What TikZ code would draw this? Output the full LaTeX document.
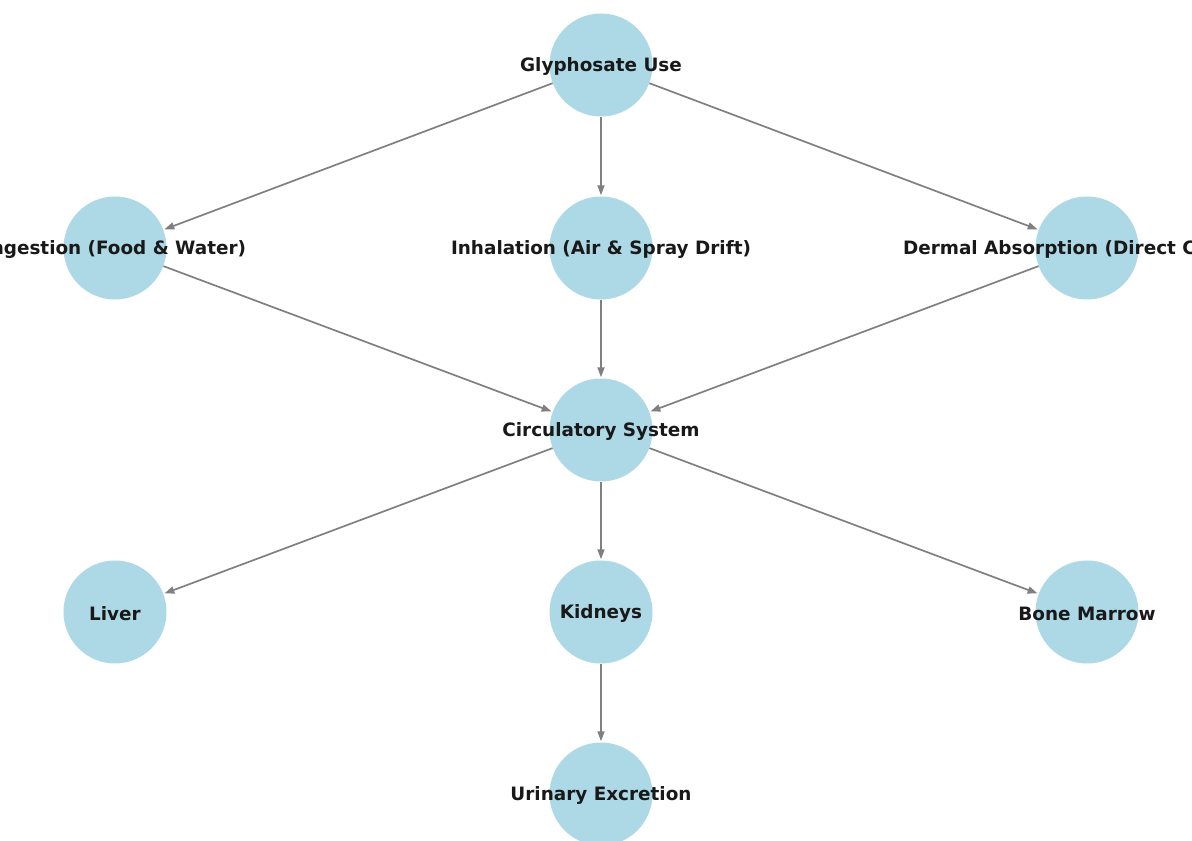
\documentclass[tikz,border=0pt]{standalone}
\usepackage{fontspec}
\setmainfont{DejaVu Sans}
\usetikzlibrary{arrows.meta}
\definecolor{nodeblue}{HTML}{ADD8E6}
\definecolor{edgegray}{HTML}{808080}
\tikzset{
  bubble/.style={circle, fill=nodeblue, draw=none, minimum size=103pt, inner sep=0pt},
  lbl/.style={font=\bfseries\fontsize{18.4}{21}\selectfont, text=black!90, inner sep=0pt, yshift=-1.5pt},
  link/.style={draw=edgegray, line width=1.7pt, -{Triangle[length=10pt,width=7pt]}, shorten >=1pt, shorten <=0pt}
}
\begin{document}
\begin{tikzpicture}[x=1pt,y=1pt]
\useasboundingbox (0,0) rectangle (1192,841);
\clip (0,0) rectangle (1192,841);
\fill[white] (0,0) rectangle (1192,841);
% circles
\node[bubble] (g) at (601,776) {};
\node[bubble] (ing) at (115,593) {};
\node[bubble] (inh) at (601,593) {};
\node[bubble] (der) at (1087,593) {};
\node[bubble] (cir) at (601,411) {};
\node[bubble] (liv) at (115,229) {};
\node[bubble] (kid) at (601,229) {};
\node[bubble] (bon) at (1087,229) {};
\node[bubble] (uri) at (601,47) {};
% edges
\draw[link] (g) -- (ing);
\draw[link] (g) -- (inh);
\draw[link] (g) -- (der);
\draw[link] (ing) -- (cir);
\draw[link] (inh) -- (cir);
\draw[link] (der) -- (cir);
\draw[link] (cir) -- (liv);
\draw[link] (cir) -- (kid);
\draw[link] (cir) -- (bon);
\draw[link] (kid) -- (uri);
% labels
\node[lbl] (gl) at (g) {Glyphosate Use};
\node[lbl] (ingl) at (ing) {Ingestion (Food \& Water)};
\node[lbl] (inhl) at (inh) {Inhalation (Air \& Spray Drift)};
\node[lbl] (derl) at (der) {Dermal Absorption (Direct Contact)};
\node[lbl] (cirl) at (cir) {Circulatory System};
\node[lbl] (livl) at (liv) {Liver};
\node[lbl] (kidl) at (kid) {Kidneys};
\node[lbl] (bonl) at (bon) {Bone Marrow};
\node[lbl] (uril) at (uri) {Urinary Excretion};
\end{tikzpicture}
\end{document}
